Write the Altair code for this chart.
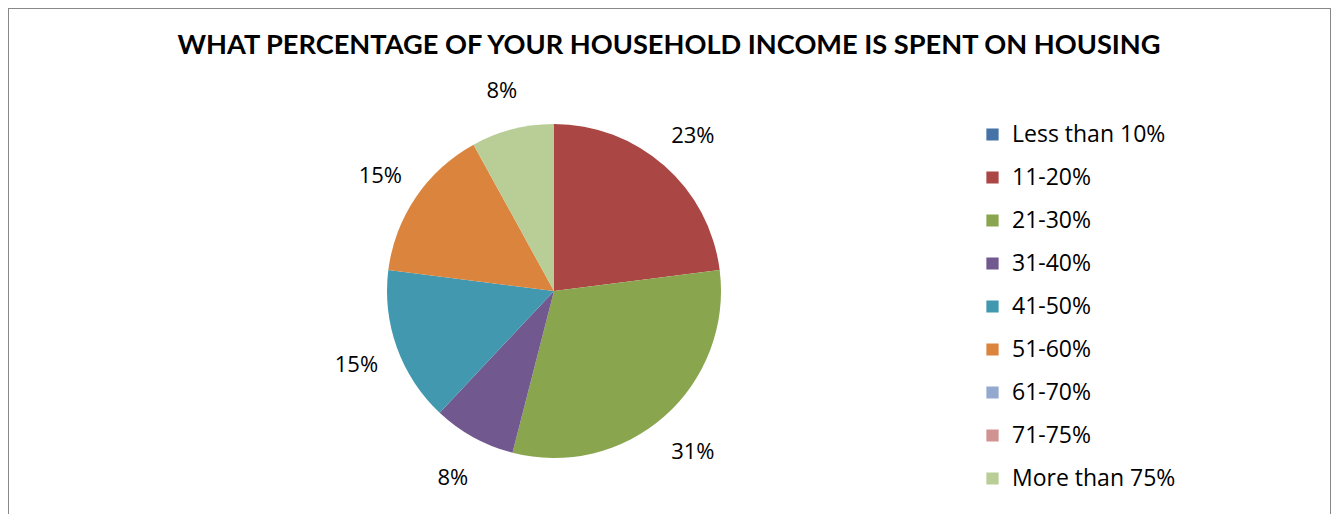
import altair as alt
import pandas as pd

categories = ["Less than 10%", "11-20%", "21-30%", "31-40%", "41-50%",
              "51-60%", "61-70%", "71-75%", "More than 75%"]
shares = [0, 23, 31, 8, 15, 15, 0, 0, 8]
colors = ["#4572A7", "#AA4643", "#89A54E", "#71588F", "#4198AF",
          "#DB843D", "#93A9CF", "#D19392", "#B9CD96"]
title_text = "WHAT PERCENTAGE OF YOUR HOUSEHOLD INCOME IS SPENT ON HOUSING"

df = pd.DataFrame({"category": categories, "share": shares,
                   "idx": list(range(len(categories)))})
df["label"] = [f"{v}%" for v in shares]

CX, CY, R = 546, 283, 167
FONT = "Open Sans"

base = alt.Chart(df).encode(
    theta=alt.Theta("share:Q", stack=True),
    order=alt.Order("idx:Q"),
)

pie = base.mark_arc(outerRadius=R).encode(
    x=alt.value(CX), y=alt.value(CY),
    color=alt.Color(
        "category:N",
        sort=categories,
        scale=alt.Scale(domain=categories, range=colors),
        legend=alt.Legend(
            orient="none", legendX=973, legendY=115, title=None,
            symbolType="square", symbolSize=150, symbolStrokeWidth=0,
            labelFontSize=23, labelFont=FONT, labelColor="#000000",
            labelLimit=400, rowPadding=19, labelOffset=8, clipHeight=23,
        ),
    ),
)

labels = base.transform_filter("datum.share > 0").mark_text(
    radius=210, font=FONT, fontSize=22, color="#000000",
    align="center", baseline="middle", dy=3,
).encode(x=alt.value(CX), y=alt.value(CY), text="label:N")

title = alt.Chart(pd.DataFrame({"t": [title_text]})).mark_text(
    font="Lato", fontWeight="bold", fontSize=27.2, color="#000000",
    align="center", baseline="middle",
).encode(text="t:N", x=alt.value(661), y=alt.value(38))

chart = alt.layer(pie, labels, title).properties(
    width=1323, height=520, padding=0, autosize="none"
).configure_view(stroke="#888888", strokeWidth=2)

chart.save("out.html", embed_options={"renderer": "svg", "actions": False})
